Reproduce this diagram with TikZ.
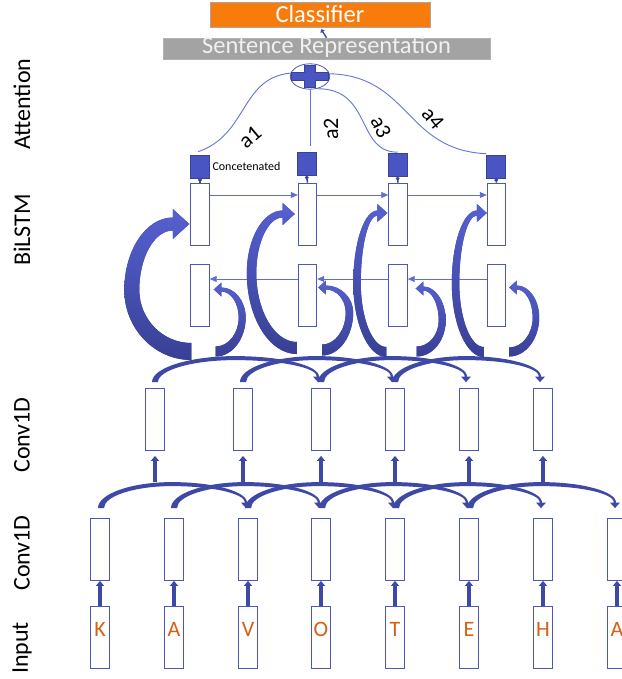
\documentclass[tikz,border=0pt]{standalone}
\usepackage{fontspec}
\setmainfont{Carlito}
\usetikzlibrary{arrows.meta,calc,positioning,shapes.geometric}

\definecolor{boxblue}{RGB}{76,88,180}
\definecolor{arrowblue}{RGB}{62,72,165}
\definecolor{curltop}{RGB}{86,96,208}
\definecolor{curlbot}{RGB}{56,64,148}
\definecolor{thinblue}{RGB}{95,110,215}
\definecolor{attblue}{RGB}{100,115,215}
\definecolor{concatblue}{RGB}{74,85,196}
\definecolor{concatedge}{RGB}{58,66,150}
\definecolor{clsorange}{RGB}{248,124,12}
\definecolor{repgray}{RGB}{163,163,163}
\definecolor{letterorange}{RGB}{214,96,18}

% filled curved arrow: tip, extra options, head half width, neck width,
% outer bulge point (x,y), tail point (x,y), tail width -- all relative to the tip
\newcommand{\curlarrow}[9]{%
  \pgfmathsetmacro{\curlhl}{1.1*#3}%
  \pgfmathsetmacro{\curlwm}{((#4)+(#9))/2}%
  \fill[curlfill, shift={(#1)}, #2] (0,0) -- (-\curlhl,-#3) -- (-\curlhl,{-(#4)/2})
    .. controls ({-\curlhl+0.55*((#5)+\curlhl)},{-(#4)/2}) and (#5,{(#6)-0.55*((#6)+(#4)/2)}) .. (#5,#6)
    .. controls (#5,{(#6)+0.55*((#8)-(#6))}) and ({(#7)-0.55*((#7)-(#5))},#8) .. (#7,#8)
    -- (#7,{(#8)-(#9)})
    .. controls ({(#7)-0.55*((#7)-(#5)-\curlwm)},{(#8)-(#9)}) and ({(#5)+\curlwm},{(#6)+0.55*((#8)-(#9)-(#6))}) .. ({(#5)+\curlwm},#6)
    .. controls ({(#5)+\curlwm},{(#6)-0.55*((#6)-(#4)/2)}) and ({-\curlhl+0.55*((#5)+\curlwm+\curlhl)},{(#4)/2}) .. (-\curlhl,{(#4)/2})
    -- (-\curlhl,#3) -- cycle;}

\begin{document}
\begin{tikzpicture}[x=1pt,y=-1pt]
   \tikzstyle{cell}=[draw=boxblue, fill=white, line width=0.8pt, minimum width=18.6pt, minimum height=62pt, inner sep=0pt]
   \tikzstyle{concat}=[draw=concatedge, fill=concatblue, line width=0.6pt, minimum width=19pt, minimum height=23pt, inner sep=0pt]
   \tikzstyle{layer}=[rotate=90, font=\fontsize{24}{24}\selectfont]
   \tikzstyle{weight}=[font=\fontsize{22}{22}\selectfont, inner sep=0pt]
   \tikzstyle{uparrow}=[draw=arrowblue, line width=3.4pt, -{Triangle[width=8pt,length=5pt]}]
   \tikzstyle{thinarrow}=[draw=thinblue, line width=0.8pt, -{Triangle[width=6pt,length=7pt]}]
   \tikzstyle{att}=[draw=attblue, line width=0.9pt]
   \tikzstyle{curlfill}=[fill=arrowblue]
   \tikzstyle{curlshade}=[top color=curltop, bottom color=curlbot]

   \useasboundingbox (0,0) rectangle (621,679);

   % layer names
   \node[layer] (nameatt) at (22,104) {Attention};
   \node[layer] (namelstm) at (22,230) {BiLSTM};
   \node[layer] (nameconvb) at (22,435) {Conv1D};
   \node[layer] (nameconva) at (22,553) {Conv1D};
   \node[layer] (namein) at (22,648) {Input};

   % top
   \node[draw=black!35, fill=clsorange, text=white, minimum width=220pt, minimum height=24.6pt, inner sep=0pt,
         text height=16pt, text depth=1pt, font=\fontsize{24.5}{24.5}\selectfont] (cls) at (320,15) {Classifier};
   \node[draw=black!30, fill=repgray, text=white!94!black, minimum width=327pt, minimum height=21pt, inner sep=0pt,
         text height=15pt, text depth=4pt, font=\fontsize{24.5}{24.5}\selectfont] (sr) at (326.5,48.5) {Sentence Representation};
   \draw[draw=arrowblue, line width=1.4pt, -{Triangle[width=5pt,length=3pt]}, shorten >=2pt] (sr.north) -- (cls.south);

   % sum of the weighted states
   \node[ellipse, draw=boxblue, line width=0.8pt, minimum width=39.4pt, minimum height=25.4pt, inner sep=0pt] (plus) at (310,76.5) {};
   \filldraw[fill=concatblue, draw=concatedge, line width=0.6pt, shift={(plus.center)}]
      (-5.5,-11) -- (5.5,-11) -- (5.5,-4) -- (18.5,-4) -- (18.5,4) -- (5.5,4) -- (5.5,11) -- (-5.5,11)
      -- (-5.5,4) -- (-18.5,4) -- (-18.5,-4) -- (-5.5,-4) -- cycle;

   % concatenated states
   \node[concat] (cc1) at (200,166.5) {};
   \node[concat] (cc2) at (306.5,164) {};
   \node[concat] (cc3) at (397.5,165) {};
   \node[concat] (cc4) at (496,166.5) {};
   \node[right=2.5pt of cc1, inner sep=0pt, font=\fontsize{12}{12}\selectfont] (cctext) {Concetenated};

   \draw[att] (plus.170) .. controls (240,78) and (248,135) .. ($(cc1.north)+(-2,-3)$);
   \draw[att, shorten >=6pt] (plus.south) -- (plus.south |- cc2.north);
   \draw[att] (plus.-60) .. controls (372,88) and (356,152) .. ($(cc3.north)+(0,-1)$);
   \draw[att] (plus.8) .. controls (410,76) and (405,150) .. ($(cc4.north west)+(0,-1)$);
   \node[weight, rotate=40] (wa) at (250,137) {a1};
   \node[weight, rotate=90] (wb) at (331,129) {a2};
   \node[weight, rotate=-65] (wc) at (381,127) {a3};
   \node[weight, rotate=-50] (wd) at (433,118) {a4};

   % BiLSTM
   \foreach \x [count=\i] in {200,307.5,398,496.5} {
      \node[cell] (bu\i) at (\x,214) {};
      \node[cell] (bl\i) at (\x,295.5) {};
      \draw[concatedge, line width=1.5pt, -{Circle[length=3.5pt]}] (bu\i.north) -- (cc\i.south);
   }
   \foreach \i/\j in {1/2,2/3,3/4} {
      \draw[thinarrow] ([yshift=19pt]bu\i.east) -- ([yshift=19pt]bu\j.west);
      \draw[thinarrow] ([yshift=16.5pt]bl\j.west) -- ([yshift=16.5pt]bl\i.east);
   }

   % conv layers and input
   \foreach \x/\l [count=\i] in {100/K,174/A,248/V,321/O,395/T,469/E,543/H,617/A} {
      \node[cell] (cA\i) at (\x,549.5) {};
      \node[cell] (in\i) at (\x,637.5) {};
      \node[text=letterorange, inner sep=0pt, font=\fontsize{22}{22}\selectfont] (ch\i) at ([yshift=8.5pt]in\i.center) {\l};
      \draw[uparrow] (in\i.north) -- (cA\i.south);
   }
   \foreach \x [count=\i] in {155,243,321,395,469,543} {
      \node[cell] (cB\i) at (\x,419.5) {};
      \draw[uparrow] ([yshift=-31pt]cB\i.south) -- ([yshift=-5pt]cB\i.south);
   }

   % kernel arcs
   \foreach \k in {3,...,8}
      \curlarrow{$(cA\k.north)+(-2,-10)$}{rotate=-90}{5}{2}{-26}{74}{0}{148}{6};
   \foreach \k/\d in {3/166,4/152,5/148,6/148}
      \curlarrow{$(cB\k.north)+(-3,-6)$}{rotate=-90}{5}{2}{-26}{\d/2}{0}{\d}{6};

   % into the BiLSTM
   \curlarrow{$(bu1.west)+(-1,10)$}{curlshade}{15}{13}{-65}{66}{2}{136}{17};
   \curlarrow{$(bu2.west)+(-3,0)$}{curlshade}{11}{7}{-48}{59}{2}{140}{12};
   \curlarrow{$(bu3.west)+(-1,-1)$}{curlshade}{9}{5}{-34}{70}{-1}{144}{10};
   \curlarrow{$(bu4.west)+(0,-1)$}{curlshade}{9}{5}{-35}{70}{-3}{144}{10};
   \curlarrow{$(bl1.east)+(4,-6)$}{xscale=-1, curlshade}{7}{4}{-32}{28}{-2}{67}{10};
   \curlarrow{$(bl2.east)+(1,-8)$}{xscale=-1, curlshade}{7}{4}{-35}{25}{-4}{68}{11};
   \curlarrow{$(bl3.east)+(8,-7)$}{xscale=-1, curlshade}{7}{4}{-30}{32}{-1}{68}{10};
   \curlarrow{$(bl4.east)+(3,-8)$}{xscale=-1, curlshade}{7}{4}{-30}{30}{0}{69}{9};

\end{tikzpicture}
\end{document}
